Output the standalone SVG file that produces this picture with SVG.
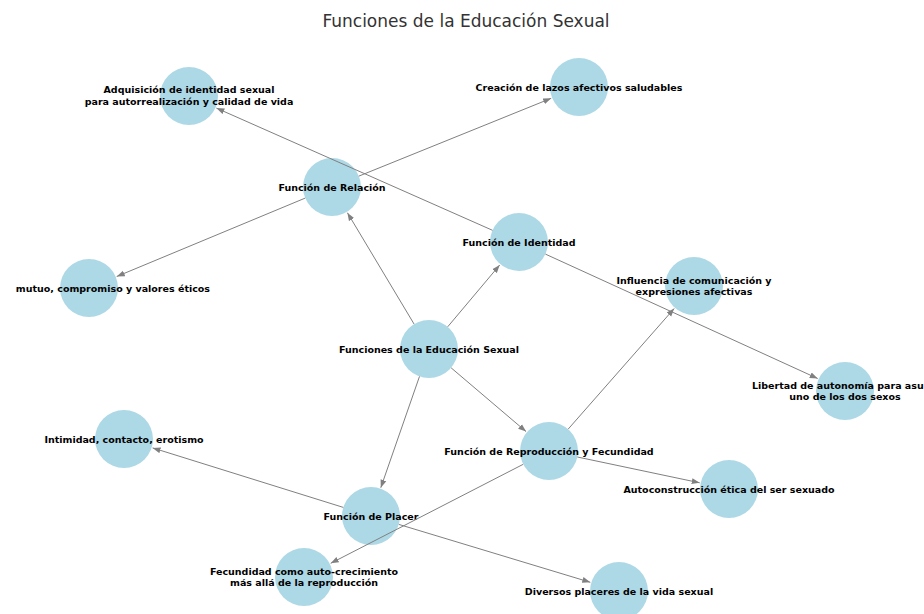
<svg xmlns="http://www.w3.org/2000/svg" width="924" height="614" viewBox="0 0 924 614">
<style>
.node circle{fill:#ADD8E6;}
.node text{font-family:"DejaVu Sans",sans-serif;font-weight:bold;font-size:9.5px;fill:#000;text-anchor:middle;}
.edges line{stroke:#808080;stroke-width:1;marker-end:url(#arr);}
.title{font-family:"DejaVu Sans",sans-serif;font-size:17px;fill:#333;text-anchor:middle;}
</style>
<defs>
<marker id="arr" markerUnits="userSpaceOnUse" markerWidth="9" markerHeight="7" refX="8" refY="3.5" orient="auto">
<path d="M0,0.5 L8,3.5 L0,6.5 z" fill="#808080"/>
</marker>
</defs>
<rect width="924" height="614" fill="#fff"/>
<text class="title" x="466" y="27">Funciones de la Educación Sexual</text>
<g id="n-central" class="node"><circle cx="429" cy="349" r="29"/><text x="429" y="352.5">Funciones de la Educación Sexual</text></g>
<g id="n-relacion" class="node"><circle cx="332" cy="187" r="29"/><text x="332" y="190.5">Función de Relación</text></g>
<g id="n-identidad" class="node"><circle cx="519" cy="242" r="29"/><text x="519" y="245.5">Función de Identidad</text></g>
<g id="n-reproduccion" class="node"><circle cx="549" cy="451" r="29"/><text x="549" y="454.5">Función de Reproducción y Fecundidad</text></g>
<g id="n-placer" class="node"><circle cx="371" cy="516" r="29"/><text x="371" y="519.5">Función de Placer</text></g>
<g id="n-adquisicion" class="node"><circle cx="189" cy="96" r="29"/><text x="189" y="93">Adquisición de identidad sexual</text><text x="189" y="105">para autorrealización y calidad de vida</text></g>
<g id="n-creacion" class="node"><circle cx="579" cy="87" r="29"/><text x="579" y="90.5">Creación de lazos afectivos saludables</text></g>
<g id="n-respeto" class="node"><circle cx="89" cy="288" r="29"/><text x="210" y="291.5" style="text-anchor:end">mutuo, compromiso y valores éticos</text></g>
<g id="n-influencia" class="node"><circle cx="694" cy="286" r="29"/><text x="694" y="283.5">Influencia de comunicación y</text><text x="694" y="294.5">expresiones afectivas</text></g>
<g id="n-libertad" class="node"><circle cx="845" cy="391" r="29"/><text x="752" y="388.5" style="text-anchor:start">Libertad de autonomía para asu</text><text x="845" y="399.5">uno de los dos sexos</text></g>
<g id="n-intimidad" class="node"><circle cx="124" cy="439" r="29"/><text x="124" y="442.5">Intimidad, contacto, erotismo</text></g>
<g id="n-autoconstruccion" class="node"><circle cx="729" cy="489" r="29"/><text x="729" y="492.5">Autoconstrucción ética del ser sexuado</text></g>
<g id="n-fecundidad" class="node"><circle cx="304" cy="577" r="29"/><text x="304" y="574.5">Fecundidad como auto-crecimiento</text><text x="304" y="585.5">más allá de la reproducción</text></g>
<g id="n-diversos" class="node"><circle cx="619" cy="591" r="29"/><text x="619" y="594.5">Diversos placeres de la vida sexual</text></g>
<g id="connectors" class="edges">
<line x1="414.1" y1="324.1" x2="347.4" y2="212.7"/>
<line x1="447.7" y1="326.8" x2="499.7" y2="265"/>
<line x1="451.1" y1="367.8" x2="526.1" y2="431.6"/>
<line x1="419.5" y1="376.4" x2="380.8" y2="487.7"/>
<line x1="358.9" y1="176.1" x2="551.2" y2="98.3"/>
<line x1="305.2" y1="198.1" x2="116.7" y2="276.5"/>
<line x1="492.5" y1="230.3" x2="216.4" y2="108.1"/>
<line x1="545.4" y1="254.1" x2="817.7" y2="378.5"/>
<line x1="568.1" y1="429.2" x2="674.2" y2="308.5"/>
<line x1="577.4" y1="457" x2="699.7" y2="482.8"/>
<line x1="523.2" y1="464.3" x2="330.7" y2="563.3"/>
<line x1="343.3" y1="507.4" x2="152.6" y2="447.9"/>
<line x1="398.8" y1="524.4" x2="590.3" y2="582.3"/>
</g>
</svg>
